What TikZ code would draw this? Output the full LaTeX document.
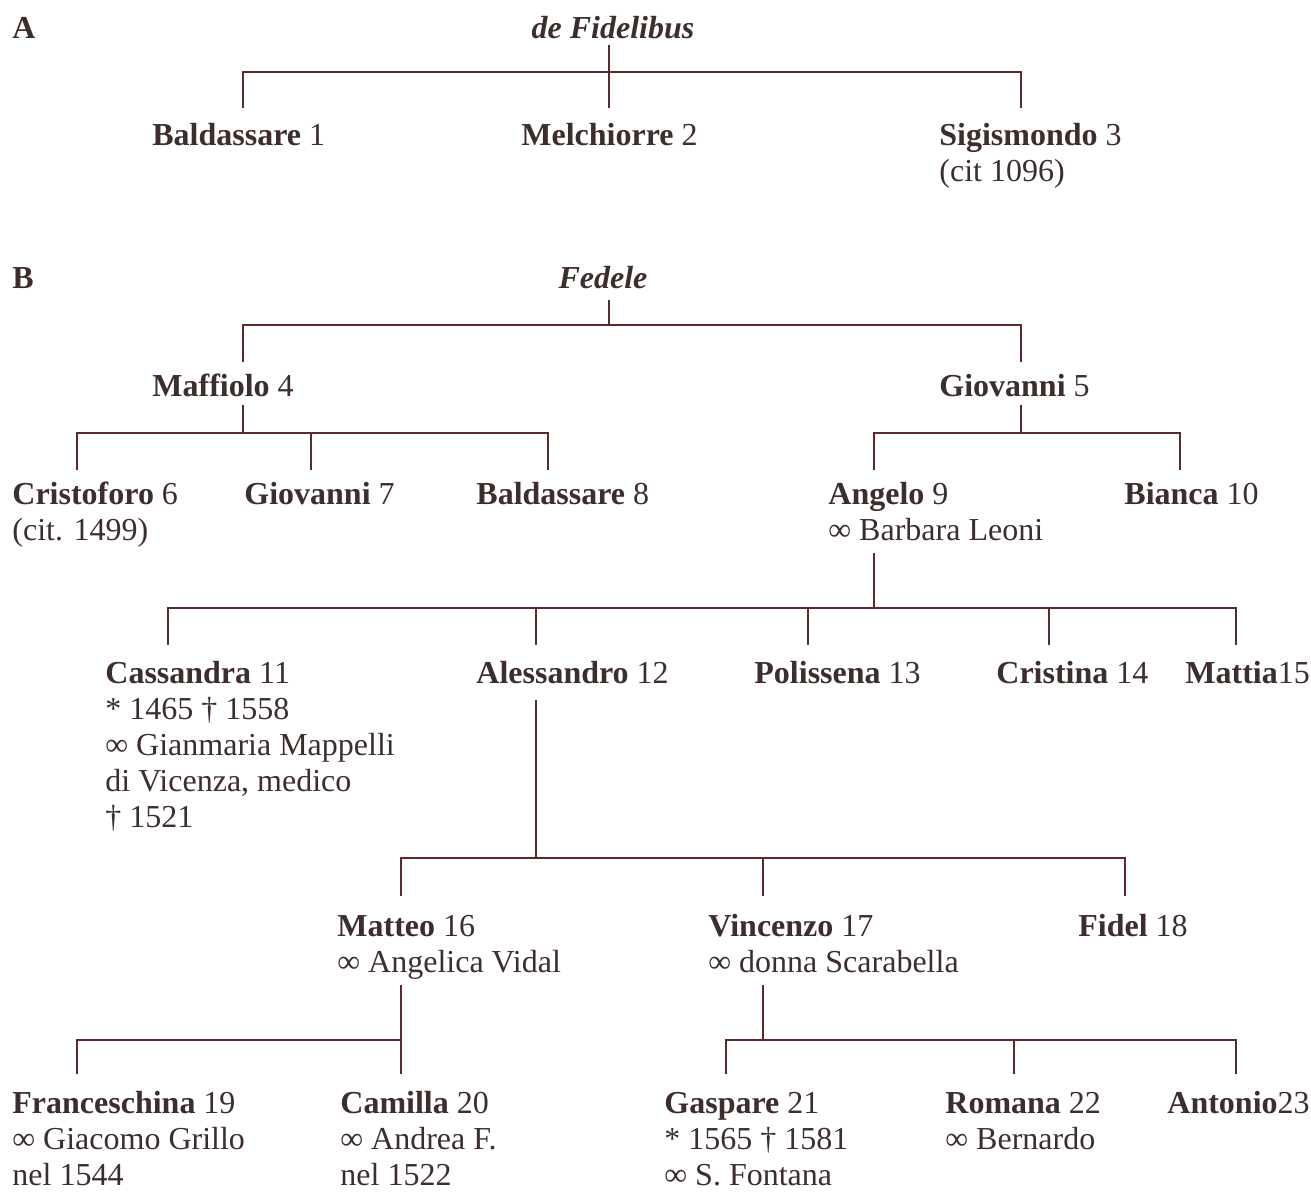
\documentclass[tikz,border=0pt]{standalone}
\usepackage{fontspec}
\setmainfont{Liberation Serif}
\definecolor{ink}{RGB}{62,45,45}
\definecolor{twig}{RGB}{92,42,42}
\tikzset{
  person/.style={anchor=north west, inner sep=0pt, align=left, text=ink,
    font=\fontsize{16}{18}\selectfont},
  head/.style={anchor=north, inner sep=0pt, text=ink,
    font=\fontsize{16}{18}\selectfont\bfseries\itshape},
  branch/.style={draw=twig, line width=1pt}
}
\newcommand{\nm}[1]{\textbf{#1}}

\begin{document}
\begin{tikzpicture}[x=0.5pt,y=-0.5pt]
    \useasboundingbox (0,0) rectangle (1311,1192);

    % part A
    \node[person] (lblA) at (12,13) {\strut\nm{A}};
    \node[head] (fid) at (613,13) {\strut de Fidelibus};
    \node[person] (b1) at (152,120) {\strut\nm{Baldassare} 1};
    \node[person] (m2) at (521,120) {\strut\nm{Melchiorre} 2};
    \node[person] (s3) at (939,120) {\strut\nm{Sigismondo} 3\\(cit 1096)};

    % part B
    \node[person] (lblB) at (12,263) {\strut\nm{B}};
    \node[head] (fed) at (603,263) {\strut Fedele};
    \node[person] (maf4) at (152,371) {\strut\nm{Maffiolo} 4};
    \node[person] (gio5) at (939,371) {\strut\nm{Giovanni} 5};
    \node[person] (cri6) at (12,479) {\strut\nm{Cristoforo} 6\\(cit. 1499)};
    \node[person] (gio7) at (244,479) {\strut\nm{Giovanni} 7};
    \node[person] (bal8) at (476,479) {\strut\nm{Baldassare} 8};
    \node[person] (ang9) at (828,479) {\strut\nm{Angelo} 9\\∞ Barbara Leoni};
    \node[person] (bia10) at (1124,479) {\strut\nm{Bianca} 10};
    \node[person] (cas11) at (105,658) {\strut\nm{Cassandra} 11\\* 1465 † 1558\\∞ Gianmaria Mappelli\\di Vicenza, medico\\† 1521};
    \node[person] (ale12) at (476,658) {\strut\nm{Alessandro} 12};
    \node[person] (pol13) at (754,658) {\strut\nm{Polissena} 13};
    \node[person] (crs14) at (996,658) {\strut\nm{Cristina} 14};
    \node[person] (mat15) at (1185,658) {\strut\nm{Mattia}15};
    \node[person] (mat16) at (337,911) {\strut\nm{Matteo} 16\\∞ Angelica Vidal};
    \node[person] (vin17) at (708,911) {\strut\nm{Vincenzo} 17\\∞ donna Scarabella};
    \node[person] (fid18) at (1078,911) {\strut\nm{Fidel} 18};
    \node[person] (fra19) at (12,1088) {\strut\nm{Franceschina} 19\\∞ Giacomo Grillo\\nel 1544};
    \node[person] (cam20) at (340,1088) {\strut\nm{Camilla} 20\\∞ Andrea F.\\nel 1522};
    \node[person] (gas21) at (664,1088) {\strut\nm{Gaspare} 21\\* 1565 † 1581\\∞ S. Fontana};
    \node[person] (rom22) at (945,1088) {\strut\nm{Romana} 22\\∞ Bernardo};
    \node[person] (ant23) at (1167,1088) {\strut\nm{Antonio}23};

    % stems, bars and drops
    \coordinate (fidS) at (609,45);
    \coordinate (fidbar) at (609,72);
    \coordinate (b1T) at (243,108);
    \coordinate (m2T) at (609,108);
    \coordinate (s3T) at (1021,108);
    \draw[branch] (fidS) -- (m2T);
    \draw[branch] (b1T) |- (fidbar) -| (s3T);

    \coordinate (fedS) at (609,300);
    \coordinate (fedbar) at (609,325);
    \coordinate (maf4T) at (243,362);
    \coordinate (gio5T) at (1021,362);
    \draw[branch] (fedS) -- (fedbar);
    \draw[branch] (maf4T) |- (fedbar) -| (gio5T);

    \coordinate (maf4S) at (243,405);
    \coordinate (mafbar) at (243,433);
    \coordinate (cri6T) at (77,470);
    \coordinate (gio7T) at (311,470);
    \coordinate (bal8T) at (548,470);
    \draw[branch] (maf4S) -- (mafbar);
    \draw[branch] (cri6T) |- (mafbar) -| (bal8T);
    \draw[branch] (gio7T) -- (gio7T |- mafbar);

    \coordinate (gio5S) at (1021,405);
    \coordinate (giobar) at (1021,433);
    \coordinate (ang9T) at (874,470);
    \coordinate (bia10T) at (1180,470);
    \draw[branch] (gio5S) -- (giobar);
    \draw[branch] (ang9T) |- (giobar) -| (bia10T);

    \coordinate (ang9S) at (874,553);
    \coordinate (angbar) at (874,608);
    \coordinate (cas11T) at (168,645);
    \coordinate (ale12T) at (536,645);
    \coordinate (pol13T) at (808,645);
    \coordinate (crs14T) at (1049,645);
    \coordinate (mat15T) at (1236,645);
    \draw[branch] (ang9S) -- (angbar);
    \draw[branch] (cas11T) |- (angbar) -| (mat15T);
    \draw[branch] (ale12T) -- (ale12T |- angbar);
    \draw[branch] (pol13T) -- (pol13T |- angbar);
    \draw[branch] (crs14T) -- (crs14T |- angbar);

    \coordinate (ale12S) at (536,700);
    \coordinate (alebar) at (536,858);
    \coordinate (mat16T) at (401,896);
    \coordinate (vin17T) at (763,896);
    \coordinate (fid18T) at (1125,896);
    \draw[branch] (ale12S) -- (alebar);
    \draw[branch] (mat16T) |- (alebar) -| (fid18T);
    \draw[branch] (vin17T) -- (vin17T |- alebar);

    \coordinate (mat16S) at (401,985);
    \coordinate (matbar) at (401,1040);
    \coordinate (fra19T) at (77,1074);
    \coordinate (cam20T) at (401,1074);
    \draw[branch] (mat16S) -- (cam20T);
    \draw[branch] (fra19T) |- (matbar);

    \coordinate (vin17S) at (763,985);
    \coordinate (vinbar) at (763,1040);
    \coordinate (gas21T) at (726,1074);
    \coordinate (rom22T) at (1014,1074);
    \coordinate (ant23T) at (1236,1074);
    \draw[branch] (vin17S) -- (vinbar);
    \draw[branch] (gas21T) |- (vinbar) -| (ant23T);
    \draw[branch] (rom22T) -- (rom22T |- vinbar);

\end{tikzpicture}
\end{document}
